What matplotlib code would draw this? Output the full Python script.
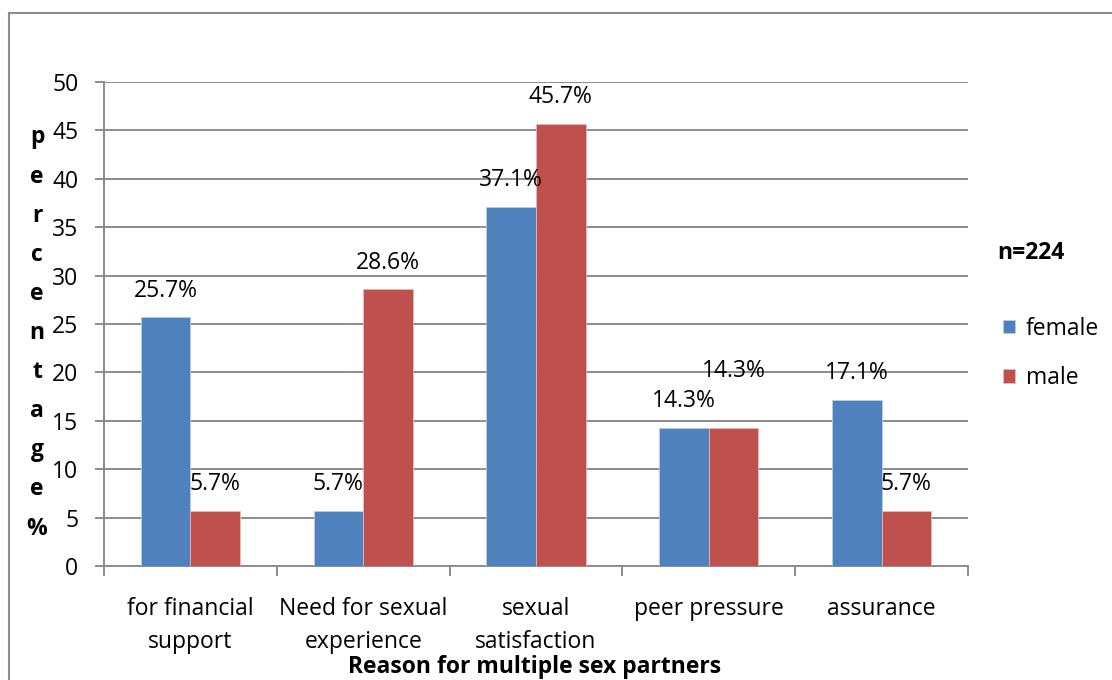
import matplotlib
matplotlib.use("Agg")
from matplotlib import pyplot as plt
from matplotlib.lines import Line2D
import numpy as np

plt.rcParams['font.family'] = ['Open Sans', 'DejaVu Sans']

reasons = ['for financial\nsupport', 'Need for sexual\nexperience',
           'sexual\nsatisfaction', 'peer pressure', 'assurance']
female = [25.7, 5.7, 37.1, 14.3, 17.1]
male = [5.7, 28.6, 45.7, 14.3, 5.7]
series_names = ['female', 'male']
sample_note = 'n=224'

blue = '#4F81BD'
red = '#C0504D'
grid_col = '#8C8C8C'
fs = 16.5

fig = plt.figure(figsize=(11.12, 6.8), dpi=100)
ax = fig.add_axes([104 / 1112, 114 / 680, 864 / 1112, 484 / 680])

x = np.arange(len(reasons))
w = 0.287
bf = ax.bar(x - w / 2, female, w, color=blue, edgecolor='#B9CDE5', linewidth=0.6, zorder=3)
bm = ax.bar(x + w / 2, male, w, color=red, edgecolor='#E6B9B8', linewidth=0.6, zorder=3)

# label offsets above bar tops (points); the peer-pressure male label sits higher
off_f = [19, 19, 19, 19, 20]
off_m = [19, 19, 19, 41, 19]
for i in range(len(reasons)):
    ax.annotate(f'{female[i]:.1f}%', (x[i] - w / 2, female[i]), xytext=(0, off_f[i]),
                textcoords='offset points', ha='center', va='center', fontsize=fs, zorder=4)
    ax.annotate(f'{male[i]:.1f}%', (x[i] + w / 2, male[i]), xytext=(0, off_m[i]),
                textcoords='offset points', ha='center', va='center', fontsize=fs, zorder=4)

ax.set_xlim(-0.5, len(reasons) - 0.5)
ax.set_ylim(0, 50)
ax.set_yticks(range(0, 51, 5))
ax.yaxis.grid(True, color=grid_col, linewidth=1.4, zorder=0)
ax.set_axisbelow(True)
for s in ['top', 'right']:
    ax.spines[s].set_visible(False)
ax.spines['left'].set_color(grid_col)
ax.spines['left'].set_linewidth(1.4)
ax.spines['bottom'].set_color(grid_col)
ax.spines['bottom'].set_linewidth(1.4)

ax.set_xticks(np.arange(-0.5, len(reasons), 1))
ax.set_xticklabels([])
ax.set_xticks(x, minor=True)
ax.set_xticklabels(reasons, minor=True, fontsize=fs, linespacing=1.5)
ax.tick_params(axis='x', which='major', length=7, width=1.4, color=grid_col)
ax.tick_params(axis='x', which='minor', length=0, pad=22)
ax.tick_params(axis='y', length=6.5, width=1.4, color=grid_col, labelsize=fs, pad=12)

fig.text(535 / 1112, 1 - 667 / 680, 'Reason for multiple sex partners', ha='center', va='center',
         fontsize=fs, fontweight='bold')

# vertical stacked y label
fig.text(37 / 1112, 1 - 333 / 680, '\n'.join('percentage%'), ha='center', va='center',
         fontsize=fs, fontweight='bold', linespacing=1.84)

fig.text(997 / 1112, 1 - 253 / 680, sample_note, ha='left', va='center',
         fontsize=fs, fontweight='bold')
fig.legend(handles=[bf, bm], labels=series_names, loc='upper left',
           bbox_to_anchor=(982 / 1112, 1 - 296 / 680), frameon=False, fontsize=fs,
           handlelength=0.55, handleheight=0.55, handletextpad=0.45, labelspacing=1.12)

# chart frame, top and left edges
fig.add_artist(Line2D([9 / 1112, 1], [1 - 13 / 680, 1 - 13 / 680], color='#8C8C8C', linewidth=1.5))
fig.add_artist(Line2D([9 / 1112, 9 / 1112], [0, 1 - 13 / 680], color='#8C8C8C', linewidth=1.5))

plt.savefig('out.png', dpi=100)
